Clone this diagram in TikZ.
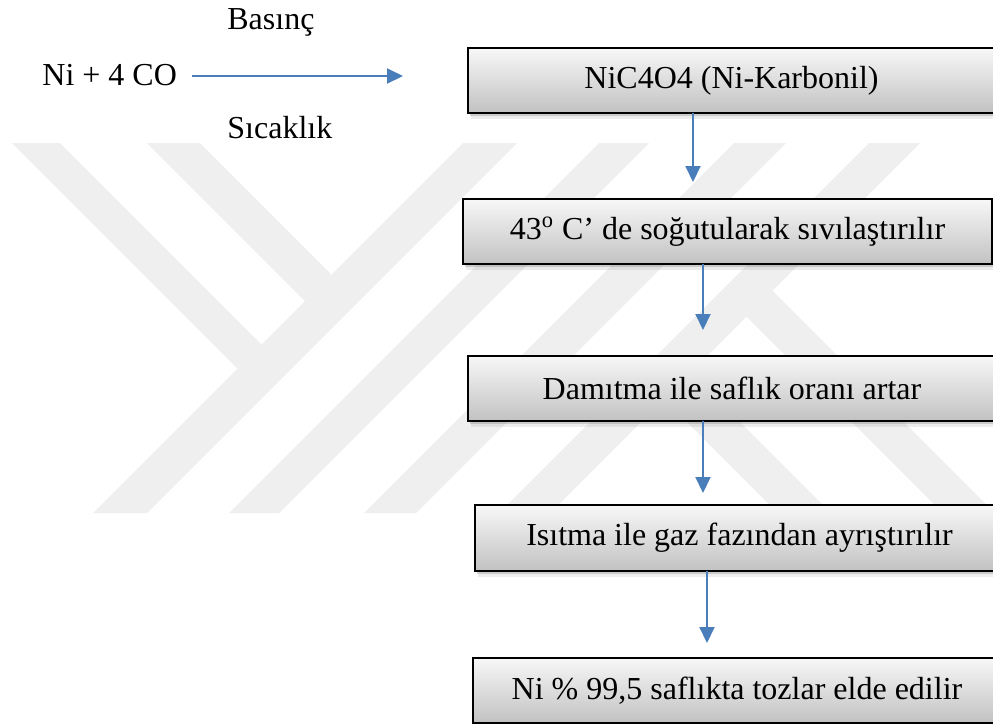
\documentclass[tikz,border=0pt]{standalone}
\usepackage{fontspec}
\setmainfont{Liberation Serif}
\usetikzlibrary{arrows.meta,shadows}
\definecolor{wm}{RGB}{239,239,239}
\definecolor{arrblue}{RGB}{74,126,187}
\begin{document}
\begin{tikzpicture}[x=0.5pt,y=-0.5pt,
  txt/.style={font=\fontsize{16}{19}\selectfont, inner sep=0pt},
  procbox/.style={draw=black, line width=1pt, top color=black!3, bottom color=black!24,
    font=\fontsize{16}{19}\selectfont, inner sep=0pt, outer sep=0pt, minimum height=32.5pt,
    drop shadow={shadow xshift=0.8pt, shadow yshift=-1.5pt, opacity=0.25, fill=black!60},
    drop shadow={shadow xshift=1.5pt, shadow yshift=-3pt, opacity=0.12, fill=black!60}},
  arr/.style={draw=arrblue, line width=1pt, -{Triangle[length=8pt,width=7.5pt]}},
  wmfill/.style={fill=wm}
  ]
\useasboundingbox (0,0) rectangle (993,724);
\clip (0,0) rectangle (993,724);
\fill[white] (0,0) rectangle (993,724);
% watermark
\fill[wmfill] (12,143) -- (60,143) -- (261.5,344.5) -- (237.5,368.5) -- cycle;
\fill[wmfill] (147,143) -- (200,143) -- (331.5,274.5) -- (305,301) -- cycle;
\fill[wmfill] (463,143) -- (517,143) -- (147,513) -- (93,513) -- cycle;
\fill[wmfill] (599,143) -- (649,143) -- (279,513) -- (229,513) -- cycle;
\fill[wmfill] (734,143) -- (786,143) -- (416,513) -- (364,513) -- cycle;
\fill[wmfill] (869,143) -- (920,143) -- (550,513) -- (499,513) -- cycle;
\fill[wmfill] (652.5,387.5) -- (679,361) -- (831,513) -- (778,513) -- cycle;
\fill[wmfill] (735,305) -- (761,279) -- (995,513) -- (943,513) -- cycle;
% reaction
\node[txt, anchor=base west] (reac) at (42,85) {Ni + 4 CO};
\node[txt, anchor=base west] (bas) at (227,29) {Basınç};
\node[txt, anchor=base west] (sic) at (227,138) {Sıcaklık};
\coordinate (h0) at (192,76);
\coordinate (h1) at (403,76);
\draw[arr] (h0) -- (h1);
% boxes
\node[procbox, minimum width=263.5pt] (b1) at (731.5,80.5) {NiC4O4 (Ni-Karbonil)};
\node[procbox, minimum width=264.5pt] (b2) at (727.5,231.5) {43\textsuperscript{o} C’ de soğutularak sıvılaştırılır};
\node[procbox, minimum width=264pt] (b3) at (732,388.5) {Damıtma ile saflık oranı artar};
\node[procbox, minimum width=264.5pt, minimum height=33pt] (b4) at (739.5,538) {Isıtma ile gaz fazından ayrıştırılır};
\node[procbox, minimum width=264pt] (b5) at (737,690.5) {Ni \% 99,5 saflıkta tozlar elde edilir};
% arrows
\coordinate (t1) at (693,182);
\coordinate (t2) at (703,330);
\coordinate (t3) at (703,493);
\coordinate (t4) at (707,643);
\draw[arr] (b1.south -| t1) -- (t1);
\draw[arr] (b2.south -| t2) -- (t2);
\draw[arr] (b3.south -| t3) -- (t3);
\draw[arr] (b4.south -| t4) -- (t4);
\end{tikzpicture}
\end{document}
